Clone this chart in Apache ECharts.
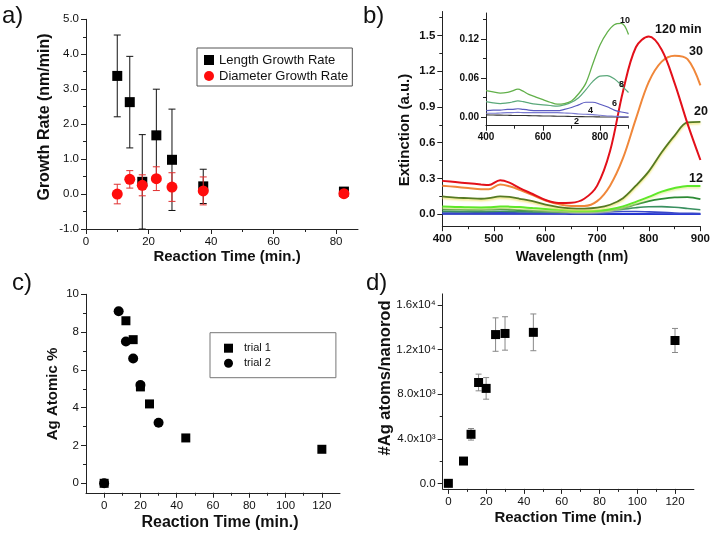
<!DOCTYPE html>
<html><head><meta charset="utf-8">
<script src="https://cdn.jsdelivr.net/npm/echarts@6/dist/echarts.min.js"></script>
<style>html,body{margin:0;padding:0;background:#fff}#c{width:713px;height:534px}</style>
</head><body><div id="c"></div><script>
// ---------- Panel a data ----------
const aTime = [10, 14, 18, 22.5, 27.5, 37.5, 82.5];
const aLength = [3.38, 2.63, 0.35, 1.68, 0.98, 0.22, 0.07];
const aLengthErr = [1.17, 1.31, 1.35, 1.32, 1.45, 0.49, 0.03];
const aDiameter = [0.0, 0.42, 0.25, 0.44, 0.2, 0.09, 0.01];
const aDiameterErr = [0.28, 0.25, 0.3, 0.34, 0.41, 0.4, 0.03];
// ---------- Panel b data ----------
const WL = [400,425,450,475,490,512,530,550,575,600,625,650,675,700,725,750,775,800,825,850,875,900];
const ext120 = [0.28,0.27,0.26,0.25,0.245,0.285,0.265,0.22,0.17,0.12,0.095,0.097,0.13,0.24,0.53,1.03,1.40,1.49,1.38,1.10,0.76,0.455];
const ext30 = [0.24,0.23,0.22,0.21,0.21,0.25,0.235,0.205,0.16,0.115,0.085,0.07,0.07,0.11,0.24,0.47,0.80,1.11,1.28,1.33,1.30,1.08];
const ext20 = [0.15,0.14,0.135,0.13,0.135,0.15,0.145,0.13,0.11,0.08,0.06,0.05,0.048,0.055,0.08,0.135,0.24,0.36,0.52,0.66,0.77,0.775];
const ext12 = [0.065,0.062,0.058,0.057,0.058,0.066,0.064,0.06,0.052,0.045,0.037,0.03,0.028,0.03,0.042,0.066,0.104,0.146,0.19,0.22,0.238,0.237];
const ext10 = [0.041,0.039,0.037,0.038,0.04,0.043,0.04,0.035,0.031,0.027,0.023,0.02,0.021,0.025,0.036,0.052,0.082,0.111,0.13,0.142,0.144,0.127];
const ext8 = [0.024,0.022,0.021,0.022,0.023,0.025,0.024,0.022,0.02,0.019,0.018,0.017,0.019,0.023,0.03,0.042,0.055,0.063,0.064,0.059,0.049,0.038];
const ext6 = [0.010,0.011,0.011,0.012,0.012,0.013,0.012,0.011,0.010,0.010,0.010,0.010,0.012,0.015,0.019,0.023,0.023,0.020,0.016,0.011,0.008,0.006];
const ext4 = [0.006,0.006,0.0065,0.007,0.007,0.0075,0.007,0.007,0.007,0.007,0.007,0.007,0.0065,0.006,0.005,0.0045,0.004,0.003,0.002,0.0015,0.001,0.0005];
const ext2 = [0.0036,0.0034,0.0032,0.003,0.0028,0.0027,0.0026,0.0025,0.0022,0.002,0.0018,0.0016,0.0014,0.0012,0.001,0.0008,0.0007,0.0005,0.0004,0.0003,0.0002,0.0001];
// ---------- Panel c data ----------
const cTime1 = [0, 12, 16, 20, 25, 45, 120];
const cAg1 = [0, 8.6, 7.6, 5.1, 4.2, 2.4, 1.8];
const cTime2 = [0, 8, 12, 16, 20, 30];
const cAg2 = [0, 9.1, 7.5, 6.6, 5.2, 3.2];
// ---------- Panel d data ----------
const dTime = [0, 8, 12, 16, 20, 25, 30, 45, 120];
const dAtoms = [0, 2000, 4400, 9050, 8520, 13350, 13450, 13550, 12820];
const dErr = [0, 0, 520, 750, 970, 1500, 1500, 1650, 1080];

const FF = '"Liberation Sans", Arial, Helvetica, sans-serif';
const xAxes = [], yAxes = [];
function addAxis(list, pos, grid, min, max, majors, minors, fmt, size, weight) {
  const idx = list.length;
  list.push({type:'value', gridIndex:grid, position:pos, min:min, max:max,
    axisLine:{show:true, onZero:false, lineStyle:{color:'#222', width:1}},
    axisTick:{show:true, length:5, customValues:majors, lineStyle:{color:'#222', width:1}},
    axisLabel:{show:true, customValues:majors, formatter:fmt, margin:7, fontSize:size, fontWeight:weight, color:'#111', fontFamily:FF},
    splitLine:{show:false}});
  list.push({type:'value', gridIndex:grid, position:pos, min:min, max:max,
    axisLine:{show:false, onZero:false},
    axisTick:{show:true, length:3, customValues:minors, lineStyle:{color:'#222', width:1}},
    axisLabel:{show:false}, splitLine:{show:false}});
  return idx;
}
const range = (a, b, s) => { const r = []; for (let v = a; v <= b + 1e-9; v += s) r.push(+v.toFixed(6)); return r; };

const grids = [
  {left:86, top:19.3, width:272, height:209.7},      // a
  {left:442.3, top:11.5, width:261, height:214.7},   // b main
  {left:486, top:13, width:142.5, height:112.7},     // b inset
  {left:86, top:294.3, width:254, height:198.45},    // c
  {left:442.7, top:293.9, width:251.2, height:195}   // d
];

const ax = addAxis(xAxes, 'bottom', 0, 0, 87, range(0,80,20), range(10,70,20), v => String(v), 11.5, 'normal');
const ay = addAxis(yAxes, 'left', 0, -1, 5, range(-1,5,1), range(-0.5,4.5,1), v => v.toFixed(1), 11.5, 'normal');
const bx = addAxis(xAxes, 'bottom', 1, 400, 900, range(400,900,100), range(450,850,100), v => String(v), 11.5, 'bold');
const by = addAxis(yAxes, 'left', 1, -0.1, 1.7, range(0,1.5,0.3), range(0.15,1.65,0.3), v => v.toFixed(1), 11.5, 'bold');
const ix = addAxis(xAxes, 'bottom', 2, 400, 900, [400,600,800], [500,700,900], v => String(v), 10, 'bold');
const iy = addAxis(yAxes, 'left', 2, -0.013, 0.16, [0,0.06,0.12], [0.03,0.09,0.15], v => v.toFixed(2), 10, 'bold');
const cx = addAxis(xAxes, 'bottom', 3, -10, 130, range(0,120,20), range(10,110,20), v => String(v), 11.5, 'normal');
const cy = addAxis(yAxes, 'left', 3, -0.5, 10, range(0,10,2), range(1,9,2), v => String(v), 11.5, 'normal');
const dLab = {0:'0.0', 4000:'4.0x10\u00B3', 8000:'8.0x10\u00B3', 12000:'1.2x10\u2074', 16000:'1.6x10\u2074'};
const dx = addAxis(xAxes, 'bottom', 4, -3, 130, range(0,120,20), range(10,110,20), v => String(v), 11.5, 'normal');
const dy = addAxis(yAxes, 'left', 4, -500, 17000, range(0,16000,4000), range(2000,14000,4000), v => dLab[v] || '', 11.5, 'normal');

function errSeries(xi, yi, xs, ys, errs, color, cap, z) {
  return {type:'custom', xAxisIndex:xi, yAxisIndex:yi, z:z, silent:true, clip:true,
    data: xs.map((x, i) => [x, ys[i] - errs[i], ys[i] + errs[i]]),
    encode:{x:0, y:[1,2]},
    renderItem: function (params, api) {
      const lo = api.coord([api.value(0), api.value(1)]);
      const hi = api.coord([api.value(0), api.value(2)]);
      const st = {stroke:color, lineWidth:1};
      return {type:'group', children:[
        {type:'line', shape:{x1:lo[0], y1:lo[1], x2:hi[0], y2:hi[1]}, style:st},
        {type:'line', shape:{x1:lo[0]-cap, y1:lo[1], x2:lo[0]+cap, y2:lo[1]}, style:st},
        {type:'line', shape:{x1:hi[0]-cap, y1:hi[1], x2:hi[0]+cap, y2:hi[1]}, style:st}
      ]};
    }};
}
function lineSeries(xi, yi, name, vals, color, w, shadow) {
  const s = {type:'line', name:name, xAxisIndex:xi, yAxisIndex:yi, smooth:0.35, symbol:'none',
    data: WL.map((x, i) => [x, vals[i]]), lineStyle:{color:color, width:w}, z:2, silent:true};
  if (shadow) { s.lineStyle.shadowColor = shadow; s.lineStyle.shadowBlur = 2; s.lineStyle.shadowOffsetY = 1.5; }
  return s;
}
function scat(xi, yi, name, xs, ys, sym, size, color, z) {
  return {type:'scatter', name:name, xAxisIndex:xi, yAxisIndex:yi, symbol:sym, symbolSize:size,
    itemStyle:{color:color, opacity:1}, z:z, data: xs.map((x, i) => [x, ys[i]]), silent:true};
}

const series = [
  errSeries(ax, ay, aTime, aLength, aLengthErr, '#111', 3.5, 2),
  scat(ax, ay, 'Length Growth Rate', aTime, aLength, 'rect', 10, '#000', 3),
  errSeries(ax, ay, aTime, aDiameter, aDiameterErr, '#e03030', 3.5, 4),
  scat(ax, ay, 'Diameter Growth Rate', aTime, aDiameter, 'circle', 11, '#ff0c0c', 5),
  // b main
  lineSeries(bx, by, '2', ext2, '#1a2ab0', 1.6),
  lineSeries(bx, by, '4', ext4, '#2a3ad8', 1.6),
  lineSeries(bx, by, '6', ext6, '#3a48c8', 1.6),
  lineSeries(bx, by, '8', ext8, '#3a9060', 1.6),
  lineSeries(bx, by, '10', ext10, '#2c8a34', 1.8),
  lineSeries(bx, by, '12', ext12, '#5ee82a', 2, 'rgba(230,240,150,0.9)'),
  lineSeries(bx, by, '20', ext20, '#567a22', 1.8, 'rgba(240,230,110,0.95)'),
  lineSeries(bx, by, '30', ext30, '#f0873a', 2),
  lineSeries(bx, by, '120', ext120, '#e3101a', 2),
  // b inset
  lineSeries(ix, iy, 'i2', ext2, '#333333', 1.1),
  lineSeries(ix, iy, 'i4', ext4, '#7a7ad0', 1.1),
  lineSeries(ix, iy, 'i6', ext6, '#5a5ac0', 1.2),
  lineSeries(ix, iy, 'i8', ext8, '#5aa87a', 1.2),
  lineSeries(ix, iy, 'i10', ext10, '#62b04a', 1.3),
  // c
  scat(cx, cy, 'trial 1', cTime1, cAg1, 'rect', 9, '#000', 3),
  scat(cx, cy, 'trial 2', cTime2, cAg2, 'circle', 10, '#000', 4),
  // d
  errSeries(dx, dy, dTime, dAtoms, dErr, '#888', 3, 2),
  scat(dx, dy, 'd', dTime, dAtoms, 'rect', 9, '#000', 3)
];

function txt(x, y, s, size, weight, rot, align) {
  return {type:'text', x:x, y:y, rotation:rot || 0, z:10, silent:true,
    style:{text:s, fontSize:size, fontWeight:weight, fontFamily:FF, fill:'#111',
      align:align || 'center', verticalAlign:'middle', textAlign:align || 'center', textVerticalAlign:'middle'}};
}
const R = Math.PI / 2;
const graphic = [
  txt(2, 16, 'a)', 24, 'normal', 0, 'left'),
  txt(363, 16, 'b)', 24, 'normal', 0, 'left'),
  txt(12, 283, 'c)', 24, 'normal', 0, 'left'),
  txt(366, 283, 'd)', 24, 'normal', 0, 'left'),
  txt(45, 117, 'Growth Rate (nm/min)', 16, 'bold', R),
  txt(227, 257, 'Reaction Time (min.)', 15, 'bold', 0),
  txt(405, 130, 'Extinction (a.u.)', 15, 'bold', R),
  txt(572, 257, 'Wavelength (nm)', 14, 'bold', 0),
  txt(53, 394, 'Ag Atomic %', 15, 'bold', R),
  txt(220, 523, 'Reaction Time (min.)', 16, 'bold', 0),
  txt(385, 378, '#Ag atoms/nanorod', 16.5, 'bold', R),
  txt(568, 518, 'Reaction Time (min.)', 15, 'bold', 0),
  // curve labels
  txt(655, 30, '120 min', 12.5, 'bold', 0, 'left'),
  txt(689, 52, '30', 12.5, 'bold', 0, 'left'),
  txt(694, 112, '20', 12.5, 'bold', 0, 'left'),
  txt(689, 179, '12', 12.5, 'bold', 0, 'left'),
  txt(620, 21, '10', 9, 'bold', 0, 'left'),
  txt(619, 85, '8', 9, 'bold', 0, 'left'),
  txt(612, 104, '6', 9, 'bold', 0, 'left'),
  txt(588, 111, '4', 9, 'bold', 0, 'left'),
  txt(574, 122, '2', 9, 'bold', 0, 'left')
];

const option = {
  animation:false,
  backgroundColor:'#fff',
  grid: grids,
  xAxis: xAxes,
  yAxis: yAxes,
  legend: [
    {data:[{name:'Length Growth Rate', icon:'rect'}, {name:'Diameter Growth Rate', icon:'circle'}],
     left:197, top:48, orient:'vertical', padding:[5.5,4,3.5,7], itemGap:3, itemWidth:10, itemHeight:10,
     borderColor:'#555', borderWidth:1, selectedMode:false,
     textStyle:{fontSize:13, fontFamily:FF, color:'#111', lineHeight:10}},
    {data:[{name:'trial 1', icon:'rect'}, {name:'trial 2', icon:'circle'}],
     left:210, top:332.7, orient:'vertical', padding:[10,65,9,14], itemGap:4, itemWidth:9, itemHeight:9,
     borderColor:'#777', borderWidth:1, selectedMode:false,
     textStyle:{fontSize:11, fontFamily:FF, color:'#111', lineHeight:9, padding:[0,0,0,6]}}
  ],
  graphic: graphic,
  series: series
};
const chart = echarts.init(document.getElementById('c'));
chart.setOption(option);
</script></body></html>
